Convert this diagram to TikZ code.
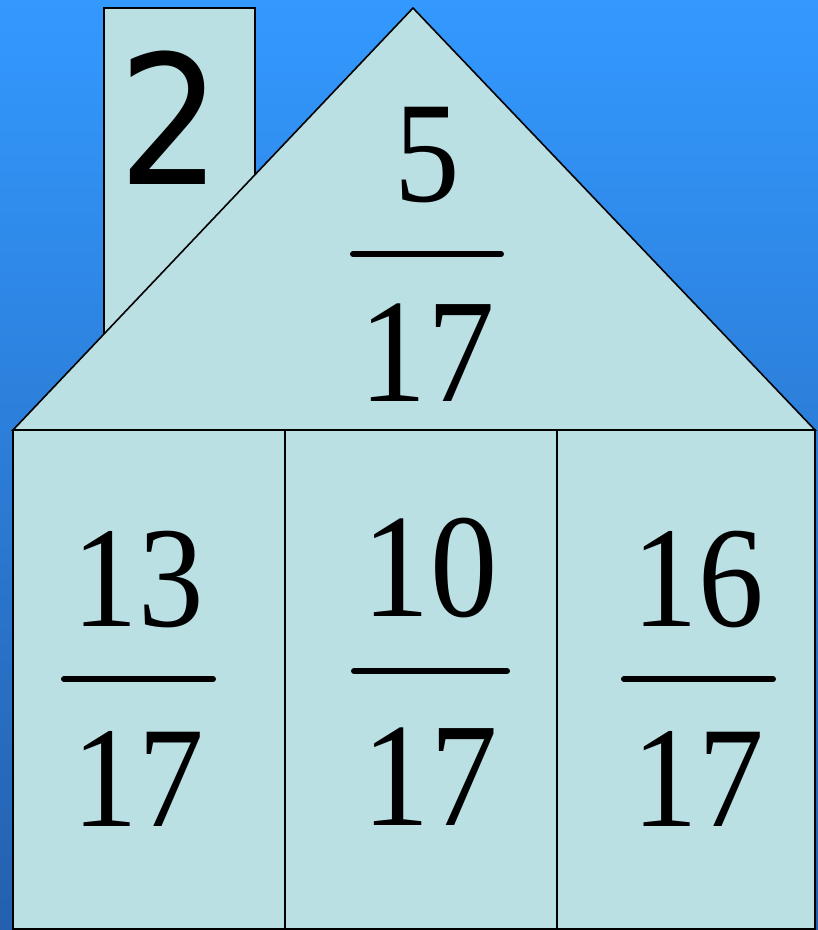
\documentclass[tikz,border=0pt]{standalone}
\usepackage{fontspec}
\setmainfont{Liberation Serif}[FakeStretch=0.91]
\newfontfamily\digitsans{DejaVu Sans}[FakeStretch=0.9]
\usetikzlibrary{calc}
\definecolor{skytop}{HTML}{3399FF}
\definecolor{skybottom}{HTML}{2460AE}
\definecolor{wallfill}{HTML}{BBE0E3}
\tikzset{
  every picture/.style={x=1pt, y=-1pt},
  part/.style={draw=black, fill=wallfill, line width=1.6pt, line join=miter},
  num/.style={anchor=base, inner sep=0pt, font=\fontsize{144}{144}\selectfont},
  bignum/.style={num, font=\fontsize{148}{148}\selectfont},
  bar/.style={line width=6pt, line cap=round},
}
\begin{document}
\begin{tikzpicture}
  \useasboundingbox (0,0) rectangle (818,930);
  \shade[top color=skytop, bottom color=skybottom] (0,0) rectangle (818,930);
  % chimney and roof
  \draw[part] (104,8) rectangle (255,340);
  \draw[part] (13,430) -- (413,8) -- (815,430) -- cycle;
  % walls
  \draw[part] (13,430) rectangle (285,929);
  \draw[part] (285,430) rectangle (557,929);
  \draw[part] (557,430) rectangle (815,929);
  % chimney number
  \node[anchor=base, inner sep=0pt, font=\digitsans\fontsize{180}{180}\selectfont] (two) at (170,184) {2};
  % roof fraction
  \node[num] (rooftop) at (427,201) {5};
  \node[bignum] (roofbot) at (427,401) {17};
  \draw[bar] (353,254) coordinate (rl) -- (501,254) coordinate (rr);
  % left wall
  \node[num] (lefttop) at (138,626) {13};
  \node[num] (leftbot) at (138,826) {17};
  \draw[bar] (64,679) coordinate (ll) -- (213,679) coordinate (lr);
  % middle wall
  \node[bignum] (midtop) at (430,616) {10};
  \node[bignum] (midbot) at (430,825) {17};
  \draw[bar] (354,671) coordinate (ml) -- (507,671) coordinate (mr);
  % right wall
  \node[num] (righttop) at (698,626) {16};
  \node[num] (rightbot) at (698,826) {17};
  \draw[bar] (624,679) coordinate (pl) -- (773,679) coordinate (pr);
\end{tikzpicture}
\end{document}
